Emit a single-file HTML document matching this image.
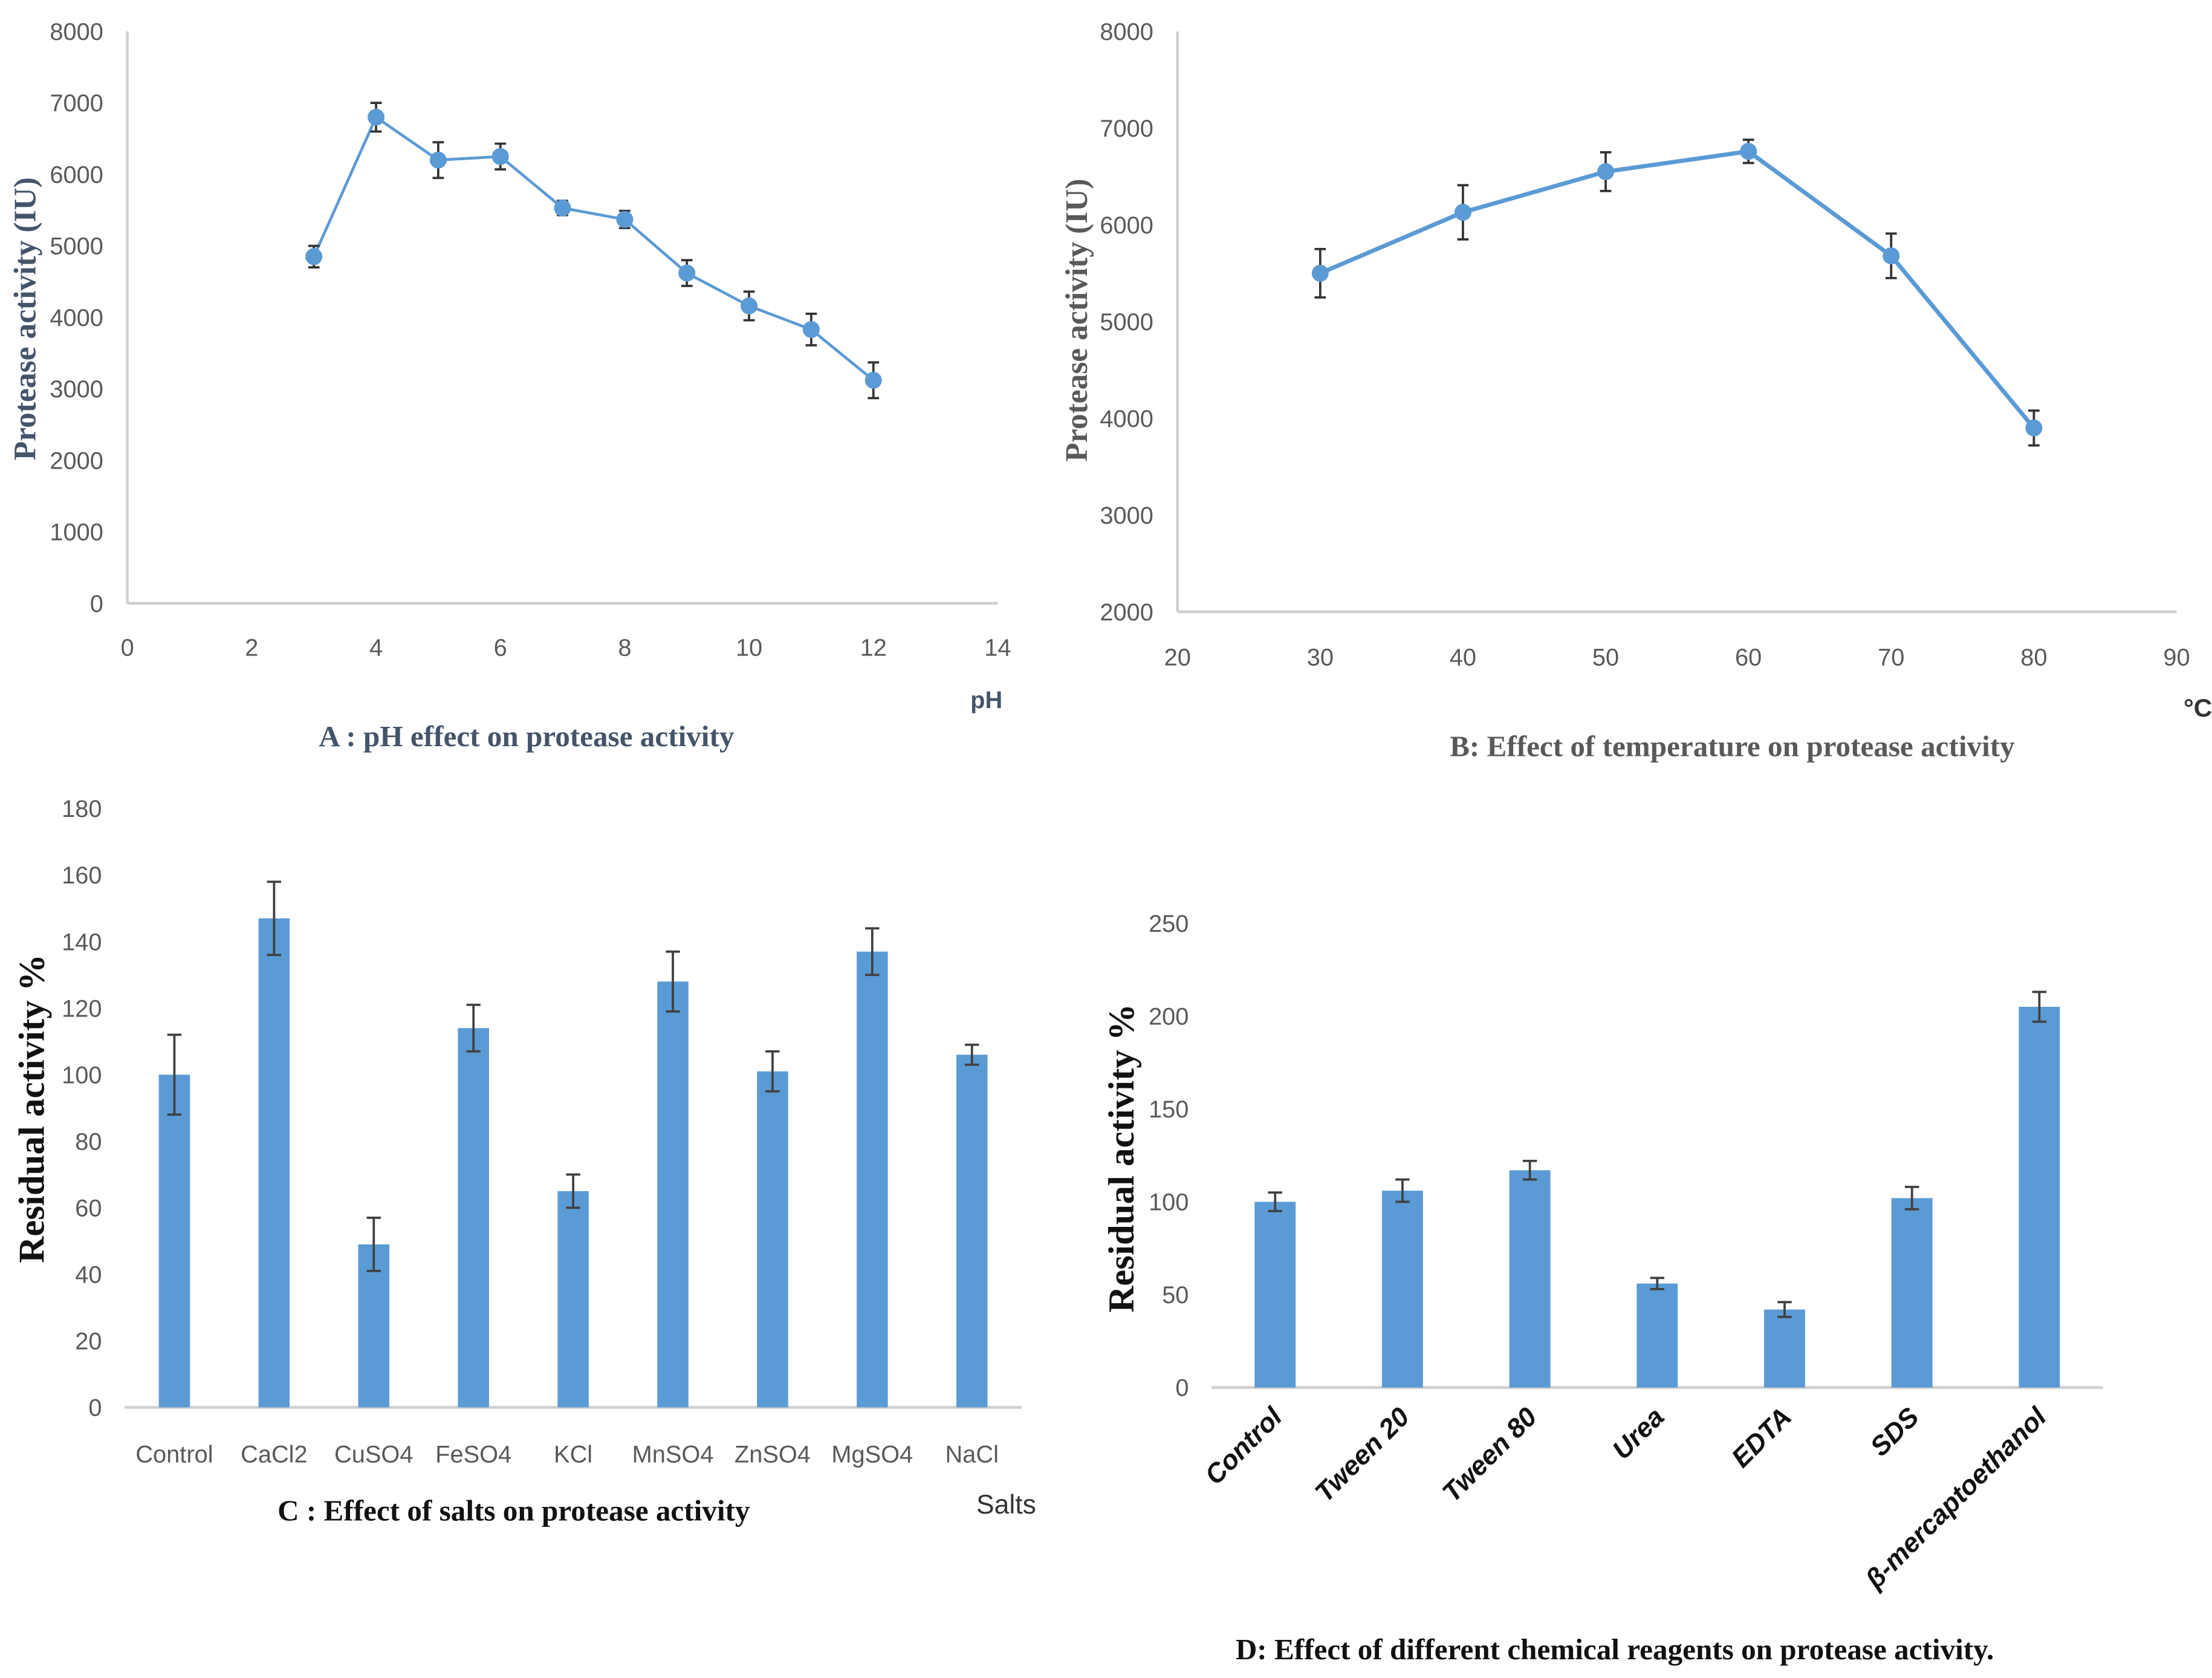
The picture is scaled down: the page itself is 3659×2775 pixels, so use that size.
<!DOCTYPE html>
<html><head><meta charset="utf-8"><style>
html,body{margin:0;padding:0;background:#fff}
svg{display:block}
.t{font-family:"Liberation Sans",sans-serif;fill:#595959;font-size:17px}
.s{font-family:"Liberation Serif",serif;font-weight:bold}
</style></head><body>
<svg id="c" width="3659" height="2775" viewBox="0 0 1563 1185" xmlns="http://www.w3.org/2000/svg">
<g id="A"></g>
<g id="B"></g>
<g id="C"></g>
<g id="D"></g>
</svg>
<script>
const NS="http://www.w3.org/2000/svg";
const BLUE="#5b9bd5";
// Panel A data
const phX=[3,4,5,6,7,8,9,10,11,12];
const phY=[4850,6800,6200,6250,5530,5370,4620,4160,3830,3120];
const phErr=[150,200,250,180,100,120,180,200,220,250];
const phXTicks=[0,2,4,6,8,10,12,14];
const phYTicks=[0,1000,2000,3000,4000,5000,6000,7000,8000];
// Panel B data
const tX=[30,40,50,60,70,80];
const tY=[5500,6130,6550,6760,5680,3900];
const tErr=[250,280,200,120,230,180];
const tXTicks=[20,30,40,50,60,70,80,90];
const tYTicks=[2000,3000,4000,5000,6000,7000,8000];
// Panel C data
const saltCats=["Control","CaCl2","CuSO4","FeSO4","KCl","MnSO4","ZnSO4","MgSO4","NaCl"];
const saltVals=[100,147,49,114,65,128,101,137,106];
const saltErr=[12,11,8,7,5,9,6,7,3];
const saltYTicks=[0,20,40,60,80,100,120,140,160,180];
// Panel D data
const reagCats=["Control","Tween 20","Tween 80","Urea","EDTA","SDS","β-mercaptoethanol"];
const reagVals=[100,106,117,56,42,102,205];
const reagErr=[5,6,5,3,4,6,8];
const reagYTicks=[0,50,100,150,200,250];

function el(p,tag,attrs,txt){const e=document.createElementNS(NS,tag);for(const k in attrs)e.setAttribute(k,attrs[k]);if(txt!==undefined)e.textContent=txt;p.appendChild(e);return e;}
function lin(d0,d1,r0,r1){return v=>r0+(v-d0)*(r1-r0)/(d1-d0);}

function errBar(g,x,y1,y2,w,col){
  const e=el(g,"path",{d:`M${x},${y1}V${y2}M${x-w},${y1}H${x+w}M${x-w},${y2}H${x+w}`,stroke:col,"stroke-width":1.6,fill:"none"});
  
  
}

function linePanel(g,X,Y,E,xt,yt,xs,ys,ax,opts){
  el(g,"line",{x1:xs(xt[0]),x2:xs(xt[xt.length-1]),y1:ys(yt[0]),y2:ys(yt[0]),stroke:"#d0d0d0","stroke-width":2});
  el(g,"line",{x1:xs(xt[0]),x2:xs(xt[0]),y1:ys(yt[0]),y2:ys(yt[yt.length-1]),stroke:"#d0d0d0","stroke-width":2});
  xt.forEach(v=>{const t=el(g,"text",{class:"t",x:xs(v),y:opts.xly,"text-anchor":"middle"},v);
    });
  yt.forEach(v=>{const t=el(g,"text",{class:"t",x:opts.ylx,y:ys(v)+6,"text-anchor":"end"},v);
    });
  const pts=X.map((x,i)=>xs(x)+","+ys(Y[i])).join(" ");
  const l=el(g,"polyline",{points:pts,fill:"none",stroke:BLUE,"stroke-width":opts.lw});
  
  X.forEach((x,i)=>{errBar(g,xs(x),ys(Y[i]+E[i]),ys(Y[i]-E[i]),4,"#333");});
  X.forEach((x,i)=>{const c=el(g,"circle",{cx:xs(x),cy:ys(Y[i]),r:6,fill:BLUE});
    });
}

// A
{const g=document.getElementById("A");
 const xs=lin(0,14,90,705), ys=lin(0,8000,426,22);
 linePanel(g,phX,phY,phErr,phXTicks,phYTicks,xs,ys,null,{xly:463,ylx:73,lw:2});
 let t=el(g,"text",{class:"s",x:0,y:0,transform:"translate(25,225) rotate(-90)","text-anchor":"middle","font-size":22,fill:"#44546a"},"Protease activity (IU)");
 
 t=el(g,"text",{x:697,y:500,"text-anchor":"middle","font-family":"Liberation Sans,sans-serif","font-weight":"bold","font-size":17,fill:"#44546a"},"pH");
 
 t=el(g,"text",{class:"s",x:372,y:527,"text-anchor":"middle","font-size":21,fill:"#44546a"},"A : pH effect on protease activity");
 }
// B
{const g=document.getElementById("B");
 const xs=lin(20,90,832,1538), ys=lin(2000,8000,432,22);
 linePanel(g,tX,tY,tErr,tXTicks,tYTicks,xs,ys,null,{xly:470,ylx:815,lw:3});
 let t=el(g,"text",{class:"s",x:0,y:0,transform:"translate(768,226) rotate(-90)","text-anchor":"middle","font-size":22,fill:"#595959"},"Protease activity (IU)");
 
 t=el(g,"text",{x:1553,y:506,"text-anchor":"middle","font-family":"Liberation Sans,sans-serif","font-weight":"bold","font-size":18,fill:"#333"},"°C");
 
 t=el(g,"text",{class:"s",x:1224,y:534,"text-anchor":"middle","font-size":21,fill:"#595959"},"B: Effect of temperature on protease activity");
 }

function barPanel(g,cats,vals,errs,yt,x0,x1,ys,bw,ylx){
  const step=(x1-x0)/cats.length;
  el(g,"line",{x1:x0,x2:x1,y1:ys(0),y2:ys(0),stroke:"#d0d0d0","stroke-width":2});
  yt.forEach(v=>{const t=el(g,"text",{class:"t",x:ylx,y:ys(v)+6,"text-anchor":"end","font-size":18},v);
    });
  const cx=[];
  cats.forEach((c,i)=>{const x=x0+step*(i+0.5);cx.push(x);
    const r=el(g,"rect",{x:x-bw/2,y:ys(vals[i]),width:bw,height:ys(0)-ys(vals[i]),fill:BLUE});
    
    
    errBar(g,x,ys(vals[i]+errs[i]),ys(vals[i]-errs[i]),5,"#404040");});
  return cx;
}
// C
{const g=document.getElementById("C");
 const ys=lin(0,180,994,571);
 const cx=barPanel(g,saltCats,saltVals,saltErr,saltYTicks,88,722,ys,22,72);
 saltCats.forEach((c,i)=>{const t=el(g,"text",{class:"t",x:cx[i],y:1033,"text-anchor":"middle","font-size":18,fill:"#333"},c);
   });
 let t=el(g,"text",{class:"s",x:0,y:0,transform:"translate(31,783) rotate(-90)","text-anchor":"middle","font-size":26,fill:"#111"},"Residual activity %");
 
 t=el(g,"text",{x:711,y:1069,"text-anchor":"middle","font-family":"Liberation Sans,sans-serif","font-size":19,fill:"#333"},"Salts");
 
 t=el(g,"text",{class:"s",x:363,y:1074,"text-anchor":"middle","font-size":21,fill:"#111"},"C : Effect of salts on protease activity");
 }
// D
{const g=document.getElementById("D");
 const ys=lin(0,250,980,652);
 const cx=barPanel(g,reagCats,reagVals,reagErr,reagYTicks,856,1486,ys,29,840);
 reagCats.forEach((c,i)=>{const t=el(g,"text",{x:0,y:0,transform:`translate(${cx[i]+6},${1002}) rotate(-45)`,"text-anchor":"end","font-family":"Liberation Sans,sans-serif","font-size":19,"font-weight":"bold","font-style":"italic",fill:"#111"},c);
   });
 let t=el(g,"text",{class:"s",x:0,y:0,transform:"translate(801,818) rotate(-90)","text-anchor":"middle","font-size":26,fill:"#111"},"Residual activity %");
 
 t=el(g,"text",{class:"s",x:1141,y:1172,"text-anchor":"middle","font-size":21,fill:"#111"},"D: Effect of different chemical reagents on protease activity.");
 }
</script>
</body></html>
